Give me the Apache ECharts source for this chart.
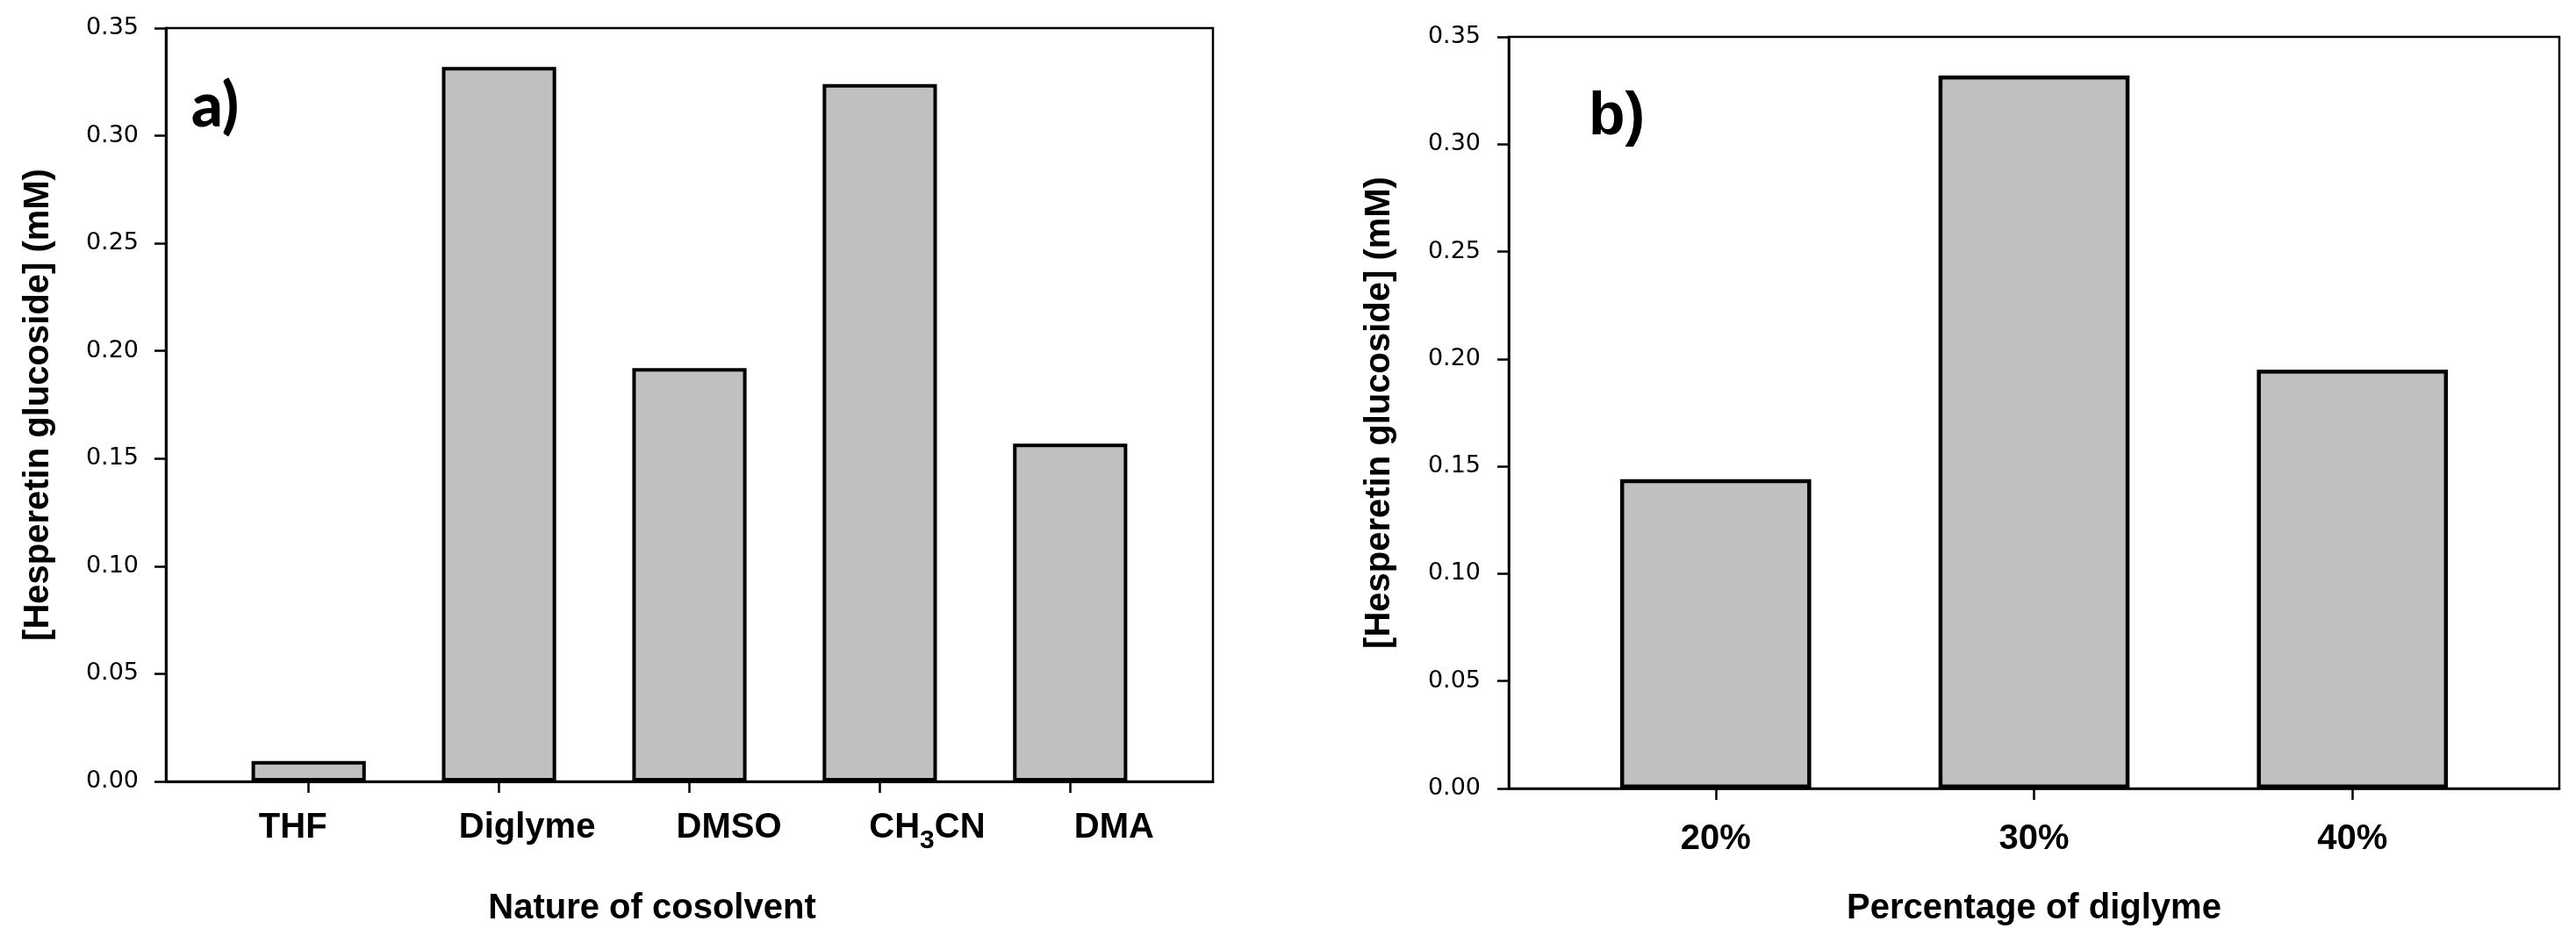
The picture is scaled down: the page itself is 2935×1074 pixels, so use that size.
<!DOCTYPE html>
<html>
<head>
<meta charset="utf-8">
<script src="https://cdn.jsdelivr.net/npm/echarts@6/dist/echarts.min.js"></script>
<style>
html,body{margin:0;padding:0;background:#fff;}
#chart{width:2935px;height:1074px;}
</style>
</head>
<body>
<div id="chart"></div>
<script>
// ---- data ----
const solvents = ['THF', 'Diglyme', 'DMSO', 'CH3CN', 'DMA'];
const solventValues = [0.0095, 0.332, 0.192, 0.324, 0.157];
const diglymePercent = ['20%', '30%', '40%'];
const diglymeValues = [0.144, 0.332, 0.195];
const yTickMin = 0, yTickMax = 0.35, yTickStep = 0.05;

// ---- styles ----
const solventLabelShift = [-18, 32, 45, 54, 50];   // px, label placement as in the original figure
const percentLabelShift = [0, 0, 0];
const SANS = '"Liberation Sans", Arial, Helvetica, sans-serif';
const TICKFONT = '"DejaVu Sans", Verdana, sans-serif';
const BOLD = { fontFamily: SANS, fontWeight: 'bold', fontSize: 40, lineHeight: 40, color: '#000', verticalAlign: 'top' };

function buildRich(shifts) {
  const rich = {
    m: Object.assign({}, BOLD),
    sub: { fontFamily: SANS, fontWeight: 'bold', fontSize: 30, lineHeight: 30, padding: [20, 0, 0, 0], verticalAlign: 'top', color: '#000' }
  };
  shifts.forEach((s, i) => {
    const L = s > 0 ? 2 * s : 0, R = s < 0 ? -2 * s : 0;
    rich['o' + i] = Object.assign({}, BOLD, { padding: [0, R, 0, L] });
    rich['h' + i] = Object.assign({}, BOLD, { padding: [0, 0, 0, L] });
    rich['t' + i] = Object.assign({}, BOLD, { padding: [0, R, 0, 0] });
  });
  return rich;
}
// chemical formulas: digits that follow a letter are drawn as subscripts
function splitFormula(name) {
  const parts = [];
  const re = /([A-Za-z])(\d+)/g;
  let last = 0, m;
  while ((m = re.exec(name)) !== null) {
    const cut = m.index + 1;
    parts.push({ t: name.slice(last, cut), sub: false });
    parts.push({ t: m[2], sub: true });
    last = cut + m[2].length;
  }
  if (last < name.length) parts.push({ t: name.slice(last), sub: false });
  return parts;
}
function labelFormatter(names) {
  return function (v) {
    const i = Math.round(v) - 1;
    const name = names[i];
    if (name == null) return '';
    const parts = splitFormula(name);
    if (parts.length === 1) return '{o' + i + '|' + name + '}';
    return parts.map((p, k) => {
      if (p.sub) return '{sub|' + p.t + '}';
      if (k === 0) return '{h' + i + '|' + p.t + '}';
      if (k === parts.length - 1) return '{t' + i + '|' + p.t + '}';
      return '{m|' + p.t + '}';
    }).join('');
  };
}
const positionsOf = arr => arr.map((_, i) => i + 1);

function makeX(gridIndex, names, shifts, min, max, title, nameGap, labelMargin, namePad, lw) {
  return {
    type: 'value', gridIndex: gridIndex, min: min, max: max,
    splitLine: { show: false },
    axisLine: { show: true, onZero: false, lineStyle: { color: '#000', width: lw } },
    axisTick: { show: true, inside: false, length: 13, customValues: positionsOf(names), lineStyle: { color: '#000', width: 2.5 } },
    axisLabel: {
      show: true, margin: labelMargin, customValues: positionsOf(names),
      formatter: labelFormatter(names), rich: buildRich(shifts),
      hideOverlap: false, showMinLabel: true, showMaxLabel: true
    },
    name: title, nameLocation: 'middle', nameGap: nameGap,
    nameTextStyle: { fontFamily: SANS, fontWeight: 'bold', fontSize: 40, lineHeight: 40, color: '#000', padding: namePad }
  };
}
function makeY(gridIndex, nameGap, labelMargin, fs, lw) {
  return {
    type: 'value', gridIndex: gridIndex, min: yTickMin, max: yTickMax, interval: yTickStep,
    splitLine: { show: false },
    axisLine: { show: true, lineStyle: { color: '#000', width: lw } },
    axisTick: { show: true, inside: false, length: 13, lineStyle: { color: '#000', width: 2.5 } },
    axisLabel: { margin: labelMargin, fontFamily: TICKFONT, fontSize: fs, color: '#000', formatter: v => v.toFixed(2),
      showMinLabel: true, showMaxLabel: true },
    name: '[Hesperetin glucoside] (mM)', nameLocation: 'middle', nameGap: nameGap, nameRotate: 90,
    nameTextStyle: { fontFamily: SANS, fontWeight: 'bold', fontSize: 40, lineHeight: 40, color: '#000' }
  };
}

const chart = echarts.init(document.getElementById('chart'), null, { renderer: 'canvas' });
chart.setOption({
  backgroundColor: '#ffffff',
  animation: false,
  title: [
    { text: 'a)', left: 218, top: 86, padding: 0, textStyle: { fontFamily: 'Lato, "Open Sans", sans-serif', fontWeight: 900, fontSize: 70, color: '#000' } },
    { text: 'b)', left: 1810, top: 100, padding: 0, textStyle: { fontFamily: SANS, fontWeight: 'bold', fontSize: 68, color: '#000' } }
  ],
  grid: [
    { left: 189, top: 32, right: 2935 - 1382, bottom: 1074 - 890, show: true, borderColor: '#000', borderWidth: 2.5, backgroundColor: 'transparent' },
    { left: 1719, top: 42, right: 2935 - 2916, bottom: 1074 - 898, show: true, borderColor: '#000', borderWidth: 2.5, backgroundColor: 'transparent' }
  ],
  xAxis: [
    makeX(0, solvents, solventLabelShift, 0.25, 5.75, 'Nature of cosolvent', 125, 33, [0, 85, 0, 0], 3),
    makeX(1, diglymePercent, percentLabelShift, 0.35, 3.65, 'Percentage of diglyme', 117, 38, 0, 2.5)
  ],
  yAxis: [
    makeY(0, 125, 31, 27, 3),
    makeY(1, 127, 32, 27, 2.5)
  ],
  series: [
    {
      type: 'bar', xAxisIndex: 0, yAxisIndex: 0, barWidth: '60%',
      itemStyle: { color: '#c0c0c0', borderColor: '#000', borderWidth: 4 },
      data: solvents.map((c, i) => [i + 1, solventValues[i]])
    },
    {
      type: 'bar', xAxisIndex: 1, yAxisIndex: 1, barWidth: '60%',
      itemStyle: { color: '#c0c0c0', borderColor: '#000', borderWidth: 4.5 },
      data: diglymePercent.map((c, i) => [i + 1, diglymeValues[i]])
    }
  ]
});
</script>
</body>
</html>
